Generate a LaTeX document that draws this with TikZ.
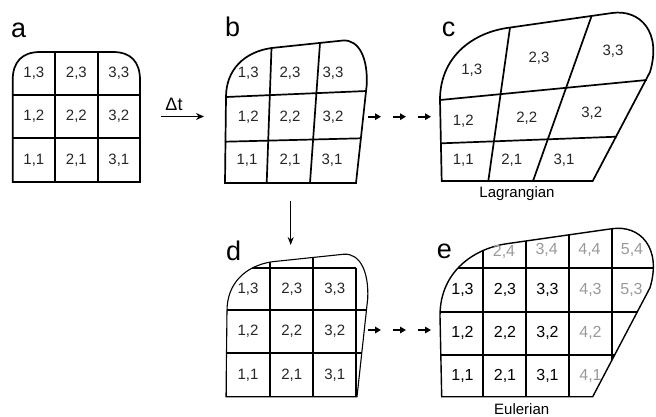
\documentclass[tikz,border=0pt]{standalone}
\usepackage{fontspec}
\setmainfont{Liberation Sans}
\usetikzlibrary{arrows.meta}

% deformed outlines (pixel coordinates, y downwards)
\newcommand{\outlineb}{(225,183) -- (226,97) .. controls (226,70) and (244,52) .. (271.5,48) -- (343,40.5) .. controls (359,39.5) and (368,58) .. (366.7,85) -- (356,183) -- cycle}
\newcommand{\outlinec}{(441.7,181) -- (440,100) .. controls (440,55) and (475,32) .. (509,27.7) -- (612,13) .. controls (640,9) and (662,32) .. (650,72) -- (592.7,181) -- cycle}

\tikzset{
  gridline/.style={line width=1.7pt},
  outline/.style={line width=1.1pt},
  cell/.style={font=\fontsize{15}{17}\selectfont, text=black!85},
  cellE/.style={font=\fontsize{16}{18}\selectfont},
  ghost/.style={cellE, text=black!40},
  panel/.style={font=\fontsize{27}{30}\selectfont, anchor=base west, inner sep=0pt},
  caption/.style={font=\fontsize{15}{17}\selectfont, anchor=base, inner sep=0pt},
  hop/.style={line width=1.8pt, -{Triangle[length=6pt,width=6.5pt]}},
}

\begin{document}
\begin{tikzpicture}[x=1pt,y=-1pt]
	\useasboundingbox (0,0) rectangle (656,416);

	% panel a: initial mesh
	\node[panel] (la) at (11,37) {a};
	\draw[gridline] (12.7,182) -- (12.7,80) .. controls (12.7,62) and (22,52) .. (40,52) -- (113,52) .. controls (131,52) and (140,62) .. (140,80) -- (140,182) -- cycle;
	\draw[gridline] (55,52) -- (55,182) (97.7,52) -- (97.7,182);
	\draw[gridline] (12.7,95) -- (140,95) (12.7,138) -- (140,138);
	\foreach \i/\x in {1/33.9,2/76.4,3/118.9}
		\foreach \j/\y in {1/160,2/116.5,3/73.5}
			\node[cell] (a\i\j) at (\x,\y) {\i,\j};

	% time step
	\coordinate (dts) at (161,116.5);
	\coordinate (dte) at (204,116.5);
	\draw[line width=1.8pt, -{Stealth[length=8pt,width=7pt]}] (dts) -- (dte);
	\node[font=\fontsize{18}{20}\selectfont, inner sep=0pt] (dt) at (174,104) {Δt};

	% panel b: deformed mesh
	\node[panel] (lb) at (225,36.7) {b};
	\draw[gridline] \outlineb;
	\draw[gridline] (266.7,183) -- (271.5,48) (310,183) -- (320,43);
	\draw[gridline] (226,97) -- (366.5,91) (225,141.7) -- (361,138.3);
	\node[cell] (b13) at (248.3,73) {1,3};
	\node[cell] (b23) at (290,73) {2,3};
	\node[cell] (b33) at (333,73) {3,3};
	\node[cell] (b12) at (248.3,117) {1,2};
	\node[cell] (b22) at (290,117) {2,2};
	\node[cell] (b32) at (333,117) {3,2};
	\node[cell] (b11) at (247,160) {1,1};
	\node[cell] (b21) at (290,160) {2,1};
	\node[cell] (b31) at (332,160) {3,1};

	\foreach \k in {0,1,2} {
		\coordinate (bs\k) at (368+25*\k,116.7);
		\coordinate (be\k) at (381+25*\k,116.7);
		\draw[hop] (bs\k) -- (be\k);
	}

	% panel c: Lagrangian
	\node[panel] (lc) at (441.7,36.7) {c};
	\draw[gridline] \outlinec;
	\draw[gridline] (488.3,181) -- (510,27.5) (533,181) -- (591.7,15.7);
	\draw[gridline] (440,100) -- (646.7,80) (441.7,143.3) -- (616.5,136.7);
	\node[cell] (c13) at (471.7,70) {1,3};
	\node[cell] (c23) at (539,58.3) {2,3};
	\node[cell] (c33) at (613,51.7) {3,3};
	\node[cell] (c12) at (463.3,121.7) {1,2};
	\node[cell] (c22) at (526.7,118.3) {2,2};
	\node[cell] (c32) at (591.7,113.3) {3,2};
	\node[cell] (c11) at (463.3,160) {1,1};
	\node[cell] (c21) at (511.7,160) {2,1};
	\node[cell] (c31) at (564,160) {3,1};
	\node[caption] (lag) at (517,197) {Lagrangian};

	% remap
	\coordinate (rs) at (290.7,200.7);
	\coordinate (re) at (290.7,245);
	\draw[line width=1.2pt, -{Stealth[length=8pt,width=6pt]}] (rs) -- (re);

	% panel d: remapped onto fixed mesh
	\node[panel] (ld) at (226,260) {d};
	\draw[outline, shift={(1,213.7)}] \outlineb;
	\begin{scope}
		\clip[shift={(1,213.7)}] \outlineb;
		\draw[gridline] (270,230) -- (270,396.7) (313.3,230) -- (313.3,396.7) (356,268.3) -- (356,396.7);
		\draw[gridline] (200,268.3) -- (356,268.3) (220,310) -- (380,310) (220,353.3) -- (380,353.3) (226,396.7) -- (356,396.7);
		\draw[gridline] (226,268.3) -- (226,396.7);
	\end{scope}
	\foreach \i/\x in {1/248,2/291.7,3/334.7}
		\foreach \j/\y in {1/375,2/331.7,3/289}
			\node[cell] (d\i\j) at (\x,\y) {\i,\j};

	\foreach \k in {0,1,2} {
		\coordinate (ds\k) at (368+25*\k,330);
		\coordinate (de\k) at (381+25*\k,330);
		\draw[hop] (ds\k) -- (de\k);
	}

	% panel e: Eulerian
	\node[panel] (le) at (436.7,258.3) {e};
	\draw[outline, line width=1.4pt, shift={(0,215.7)}] \outlinec;
	\begin{scope}
		\clip[shift={(0,215.7)}] \outlinec;
		\draw[gridline] (483.3,220) -- (483.3,400) (526,220) -- (526,400) (569,220) -- (569,400) (612.3,220) -- (612.3,400);
		\draw[gridline] (430,268.3) -- (660,268.3) (430,311.7) -- (660,311.7) (430,355) -- (660,355);
	\end{scope}
	\foreach \i/\x in {1/462.5,2/505,3/547.5}
		\foreach \j/\y in {1/376,2/333.3,3/290}
			\node[cellE] (e\i\j) at (\x,\y) {\i,\j};
	\node[ghost] (e24) at (504,251.7) {2,4};
	\node[ghost] (e34) at (546.7,250) {3,4};
	\node[ghost] (e44) at (589.5,250) {4,4};
	\node[ghost] (e54) at (632,250) {5,4};
	\node[ghost] (e43) at (590.5,290) {4,3};
	\node[ghost] (e53) at (631.5,290) {5,3};
	\node[ghost] (e42) at (590.5,333.3) {4,2};
	\node[ghost] (e41) at (590.5,376) {4,1};
	\node[caption] (eul) at (521.7,414) {Eulerian};
\end{tikzpicture}
\end{document}
